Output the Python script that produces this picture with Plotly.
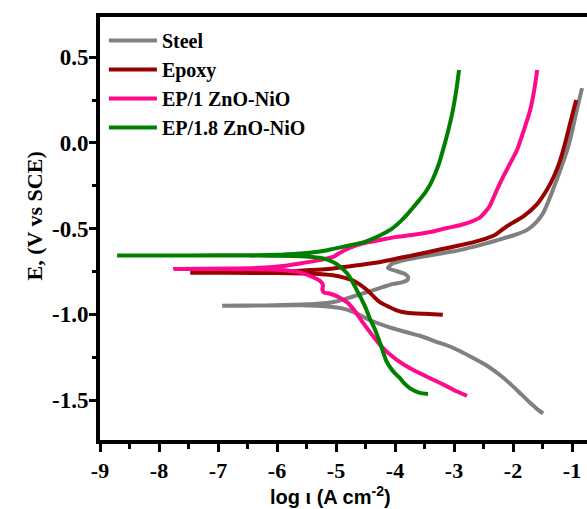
import plotly.graph_objects as go

# ---------------- data (log i, E) ----------------
steel_logi = [-1.49, -1.60, -1.71, -1.85, -2.00, -2.20, -2.44, -2.70, -3.02, -3.30, -3.58, -3.85,
              -4.14, -4.45, -4.71, -4.90, -5.10, -5.60, -6.20, -6.93,
              -6.20, -5.60, -5.20, -5.00, -4.75, -4.47, -4.20, -4.03, -3.88, -3.79, -3.78, -3.85,
              -4.00, -4.12, -4.05, -3.80, -3.40, -3.00, -2.78, -2.50, -2.27, -2.00, -1.76, -1.60,
              -1.49, -1.40, -1.32, -1.20, -1.08, -0.99, -0.92, -0.83]
steel_E = [-1.578, -1.55, -1.516, -1.47, -1.42, -1.36, -1.30, -1.25, -1.195, -1.16, -1.125, -1.10,
           -1.07, -1.03, -0.985, -0.965, -0.955, -0.947, -0.948, -0.950,
           -0.948, -0.943, -0.935, -0.925, -0.90, -0.87, -0.84, -0.822, -0.813, -0.80, -0.78, -0.762,
           -0.745, -0.73, -0.705, -0.68, -0.655, -0.632, -0.615, -0.59, -0.568, -0.54, -0.507, -0.46,
           -0.41, -0.34, -0.27, -0.16, -0.04, 0.08, 0.19, 0.32]

epoxy_logi = [-3.19, -3.50, -3.80, -3.92, -4.08, -4.25, -4.35, -4.47, -4.60, -4.71, -4.85, -5.05,
              -5.40, -6.00, -6.80, -7.47,
              -6.80, -6.00, -5.61, -5.05, -4.60, -4.25, -3.69, -3.24, -2.90, -2.56, -2.30, -2.10,
              -1.83, -1.60, -1.42, -1.30, -1.20, -1.10, -1.03, -0.93]
epoxy_E = [-1.003, -0.997, -0.99, -0.983, -0.96, -0.93, -0.90, -0.86, -0.825, -0.803, -0.787, -0.772,
           -0.763, -0.759, -0.758, -0.758,
           -0.757, -0.752, -0.745, -0.732, -0.712, -0.695, -0.655, -0.622, -0.597, -0.568, -0.535, -0.485,
           -0.43, -0.36, -0.27, -0.19, -0.10, 0.02, 0.117, 0.25]

ep1_logi = [-2.78, -2.95, -3.12, -3.36, -3.69, -3.97, -4.10, -4.25, -4.40, -4.54, -4.68, -4.81,
            -4.95, -5.10, -5.20, -5.23, -5.22, -5.27, -5.45, -5.61, -6.00, -6.80, -7.73,
            -6.80, -6.20, -5.95, -5.61, -5.30, -5.05, -4.93, -4.75, -4.54, -4.25, -3.97, -3.69,
            -3.40, -3.12, -2.90, -2.73, -2.56, -2.44, -2.39, -2.28, -2.17, -2.05, -1.93, -1.82,
            -1.71, -1.64, -1.59]
ep1_E = [-1.475, -1.45, -1.42, -1.38, -1.325, -1.265, -1.23, -1.18, -1.115, -1.05, -0.98, -0.93,
         -0.90, -0.88, -0.873, -0.858, -0.83, -0.805, -0.775, -0.755, -0.740, -0.736, -0.735,
         -0.733, -0.727, -0.72, -0.703, -0.685, -0.665, -0.64, -0.61, -0.585, -0.566, -0.548, -0.536,
         -0.52, -0.496, -0.48, -0.462, -0.435, -0.39, -0.365, -0.28, -0.20, -0.12, -0.04, 0.07,
         0.19, 0.31, 0.426]

ep18_logi = [-3.44, -3.58, -3.75, -3.85, -3.92, -4.00, -4.08, -4.15, -4.25, -4.35, -4.42, -4.50,
             -4.57, -4.63, -4.71, -4.81, -4.92, -5.05, -5.20, -5.40, -5.70, -6.50, -7.50, -8.71,
             -7.50, -6.50, -6.00, -5.61, -5.30, -5.05, -4.80, -4.54, -4.35, -4.20, -4.05, -3.92,
             -3.80, -3.69, -3.58, -3.48, -3.40, -3.32, -3.25, -3.19, -3.10, -3.02, -2.96, -2.915]
ep18_E = [-1.464, -1.458, -1.43, -1.40, -1.37, -1.345, -1.31, -1.27, -1.17, -1.08, -1.03, -0.96,
          -0.91, -0.87, -0.817, -0.762, -0.725, -0.695, -0.675, -0.665, -0.66, -0.657, -0.657, -0.657,
          -0.656, -0.655, -0.653, -0.645, -0.635, -0.618, -0.60, -0.58, -0.555, -0.53, -0.50, -0.462,
          -0.42, -0.375, -0.33, -0.285, -0.24, -0.18, -0.115, -0.045, 0.07, 0.19, 0.31, 0.426]

series_names = ["Steel", "Epoxy", "EP/1 ZnO-NiO", "EP/1.8 ZnO-NiO"]
series_colors = ["#808080", "#990000", "#FF0A8C", "#008000"]

x_tickvals = [-9, -8, -7, -6, -5, -4, -3, -2, -1]
x_ticktext = ["-9", "-8", "-7", "-6", "-5", "-4", "-3", "-2", "-1"]
y_tickvals = [0.5, 0.0, -0.5, -1.0, -1.5]
y_ticktext = ["0.5", "0.0", "-0.5", "-1.0", "-1.5"]

# ---------------- figure ----------------
fig = go.Figure()
data = [(steel_logi, steel_E), (epoxy_logi, epoxy_E), (ep1_logi, ep1_E), (ep18_logi, ep18_E)]
for (xs, ys), name, col in zip(data, series_names, series_colors):
    fig.add_trace(go.Scatter(x=xs, y=ys, mode="lines", name=name,
                             line=dict(color=col, width=4, shape="spline", smoothing=0.6)))

serif = "Liberation Serif"
fig.update_layout(
    width=587, height=509,
    margin=dict(l=100, r=0, t=17, b=69),
    plot_bgcolor="white", paper_bgcolor="white",
    showlegend=True,
    legend=dict(x=0.008, y=0.9905, xanchor="left", yanchor="top",
                font=dict(family=serif, size=20, color="black", weight="bold"),
                bgcolor="rgba(0,0,0,0)", itemwidth=48, tracegroupgap=0),
    annotations=[
        dict(text="E, (V vs SCE)", textangle=-90, xref="paper", yref="paper",
             x=-0.164, y=0.53, showarrow=False,
             font=dict(family=serif, size=22, color="black", weight="bold")),
        dict(text="log ι (A cm<sup>-2</sup>)", xref="paper", yref="paper",
             x=0.474, y=-0.132, xanchor="center", yanchor="middle", showarrow=False,
             font=dict(family="Liberation Sans", size=20, color="black", weight="bold")),
    ],
)
fig.update_xaxes(
    range=[-9, -0.746], showline=True, linecolor="black", linewidth=4, mirror=True,
    showgrid=False, zeroline=False,
    ticks="outside", ticklen=8, tickwidth=3, tickcolor="black",
    tickvals=x_tickvals, ticktext=x_ticktext,
    tickfont=dict(family=serif, size=22, color="black", weight="bold"),
    minor=dict(ticks="outside", ticklen=5, tickwidth=3, tickcolor="black", dtick=0.5, tick0=-9, showgrid=False),
)
fig.update_yaxes(
    range=[-1.733, 0.7347], showline=True, linecolor="black", linewidth=4, mirror=False,
    showgrid=False, zeroline=False,
    ticks="outside", ticklen=7, tickwidth=3, tickcolor="black",
    tickvals=y_tickvals, ticktext=y_ticktext, ticklabelstandoff=-4,
    tickfont=dict(family=serif, size=23, color="black", weight="bold"),
    minor=dict(ticks="outside", ticklen=4, tickwidth=3, tickcolor="black", dtick=0.25, tick0=0, showgrid=False),
)

fig.write_html("out.html")
